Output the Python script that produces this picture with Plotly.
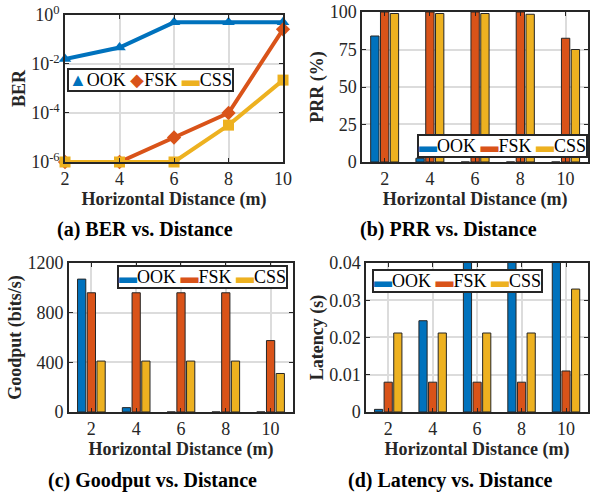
import plotly.graph_objects as go

# ---------------- data ----------------
distance = [2, 4, 6, 8, 10]
tick_labels = ["2", "4", "6", "8", "10"]
series_names = ["OOK", "FSK", "CSS"]

ber_ook = [0.016, 0.047, 0.5, 0.5, 0.5]
ber_fsk = [1e-6, 1e-6, 1e-5, 1e-4, 0.26]
ber_css = [1e-6, 1e-6, 1e-6, 3.2e-5, 2.2e-3]

prr_ook = [84, 2.5, 0, 0, 0]
prr_fsk = [100, 100, 100, 100, 82.5]
prr_css = [99, 99, 99, 98.5, 75]

goodput_ook = [1070, 35, 0, 0, 0]
goodput_fsk = [960, 960, 960, 960, 575]
goodput_css = [410, 410, 410, 410, 310]

# OOK latency at 6-10 m exceeds the 0.04 s axis limit (bars are clipped)
latency_ook = [0.0007, 0.0245, 0.05, 0.05, 0.06]
latency_fsk = [0.008, 0.008, 0.008, 0.008, 0.011]
latency_css = [0.0212, 0.0212, 0.0212, 0.0212, 0.033]

colors = ["#0072BD", "#D95319", "#EDB120"]
ber_symbols = ["triangle-up", "diamond", "square"]
ber_legend_glyphs = ["\u25B2", "\u25C6", "\u25AC"]
bar_legend_glyph = "\u25AC"

# --------------- styling ---------------
FONT = "Liberation Serif"
DARK = "#262626"
W, H = 590, 496

fig = go.Figure()

# (a) BER lines
for name, vals, col, sym in zip(series_names, [ber_ook, ber_fsk, ber_css], colors, ber_symbols):
    fig.add_trace(go.Scatter(
        x=distance, y=vals, name=name, mode="lines+markers",
        line=dict(color=col, width=4), marker=dict(symbol=sym, size=11, color=col),
        xaxis="x", yaxis="y", showlegend=False, cliponaxis=False))

# bar panels
bar_sets = [
    ([prr_ook, prr_fsk, prr_css], "x2", "y2"),
    ([goodput_ook, goodput_fsk, goodput_css], "x3", "y3"),
    ([latency_ook, latency_fsk, latency_css], "x4", "y4"),
]
for vals_list, xa, ya in bar_sets:
    for name, vals, col in zip(series_names, vals_list, colors):
        fig.add_trace(go.Bar(
            x=distance, y=vals, name=name, marker=dict(color=col, line=dict(color=DARK, width=1)),
            xaxis=xa, yaxis=ya, showlegend=False, offsetgroup=name))

def axis_style(**kw):
    d = dict(showline=True, linecolor=DARK, linewidth=1.5, mirror="ticks",
             ticks="inside", ticklen=4, tickwidth=1.2, tickcolor=DARK,
             showgrid=True, gridcolor="#dcdcdc", gridwidth=1.5, zeroline=False,
             automargin=False,
             tickfont=dict(family=FONT, size=18, color=DARK))
    d.update(kw)
    return d

def title(txt, standoff):
    return dict(text="<b>" + txt + "</b>", font=dict(family=FONT, size=18, color=DARK), standoff=standoff)

xt = "Horizontal Distance (m)"

fig.update_layout(
    width=W, height=H, margin=dict(l=0, r=0, t=0, b=0, autoexpand=False),
    paper_bgcolor="white", plot_bgcolor="white", showlegend=False,
    barmode="group", bargap=0.35, bargroupgap=0.15,
    xaxis=axis_style(domain=[0.1102, 0.4797], range=[2, 10], tickvals=distance, ticktext=tick_labels,
                     anchor="y", title=title(xt, 3)),
    yaxis=axis_style(domain=[0.6734, 0.9698], type="log", range=[-6, 0],
                     tickvals=[1e-6, 1e-4, 1e-2, 1],
                     ticktext=["10<sup>-6</sup>", "10<sup>-4</sup>", "10<sup>-2</sup>", "10<sup>0</sup>"],
                     anchor="x", title=title("BER", 1)),
    xaxis2=axis_style(domain=[0.6136, 0.997], range=[1, 11], tickvals=distance, ticktext=tick_labels,
                      anchor="y2", title=title(xt, 3)),
    yaxis2=axis_style(domain=[0.6734, 0.9758], range=[0, 100], tickvals=[0, 25, 50, 75, 100],
                      anchor="x2", title=title("PRR (%)", 1)),
    xaxis3=axis_style(domain=[0.1169, 0.4966], range=[1, 11], tickvals=distance, ticktext=tick_labels,
                      anchor="y3", title=title(xt, 3)),
    yaxis3=axis_style(domain=[0.1694, 0.4698], range=[0, 1200], tickvals=[0, 400, 800, 1200],
                      anchor="x3", title=title("Goodput (bits/s)", 1)),
    xaxis4=axis_style(domain=[0.6203, 0.997], range=[1, 11], tickvals=distance, ticktext=tick_labels,
                      anchor="y4", title=title(xt, 3)),
    yaxis4=axis_style(domain=[0.1694, 0.4698], range=[0, 0.04], tickvals=[0, 0.01, 0.02, 0.03, 0.04],
                      ticktext=["0", "0.01", "0.02", "0.03", "0.04"],
                      anchor="x4", title=title("Latency (s)", 1)),
)

# legends (one per panel), drawn as framed text boxes
def legend_text(glyphs):
    parts = []
    for g, col, name in zip(glyphs, colors, series_names):
        parts.append('<span style="color:%s">%s</span>%s' % (col, g, name))
    return " ".join(parts)

legends = [
    (legend_text(ber_legend_glyphs), 67, 68, "left", "top"),
    (legend_text([bar_legend_glyph] * 3), 588, 158, "right", "bottom"),
    (legend_text([bar_legend_glyph] * 3), 288, 265, "right", "top"),
    (legend_text([bar_legend_glyph] * 3), 372, 269, "left", "top"),
]
for txt, px, py, xa, ya in legends:
    fig.add_annotation(text=txt, x=px / W, y=1 - py / H, xref="paper", yref="paper",
                       showarrow=False, xanchor=xa, yanchor=ya,
                       bgcolor="white", bordercolor=DARK, borderwidth=2, borderpad=0,
                       font=dict(family=FONT, size=18, color="black"))

captions = [("(a) BER vs. Distance", 145, 230), ("(b) PRR vs. Distance", 448, 230),
            ("(c) Goodput vs. Distance", 152, 480), ("(d) Latency vs. Distance", 450, 480)]
for txt, cx, cy in captions:
    fig.add_annotation(text="<b>" + txt + "</b>", x=cx / W, y=1 - cy / H, xref="paper", yref="paper",
                       showarrow=False, xanchor="center", yanchor="middle",
                       font=dict(family=FONT, size=20, color="black"))

# remove the browser's default page margin so the 590x496 figure fills the window exactly
fig.write_html("out.html", config={"displayModeBar": False},
               post_script="document.body.style.margin='0';")
